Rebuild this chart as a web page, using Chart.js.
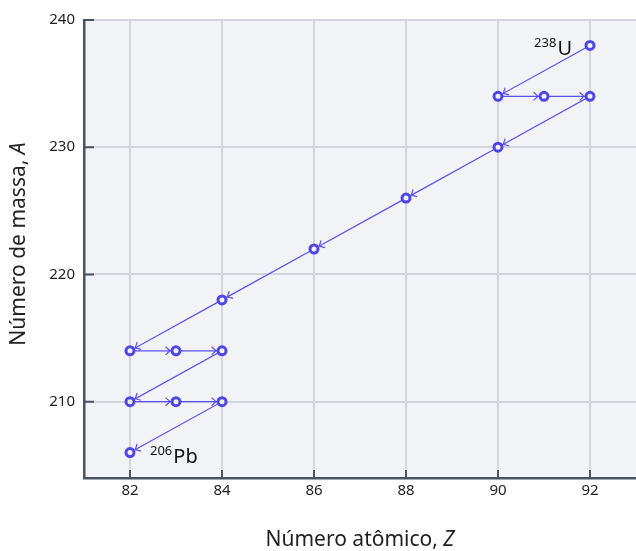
<!DOCTYPE html>
<html>
<head>
<meta charset="utf-8">
<script src="https://cdn.jsdelivr.net/npm/chart.js@4"></script>
<style>
  html, body { margin: 0; padding: 0; background: #ffffff; overflow: hidden; }
  #wrap { width: 636px; height: 551px; position: relative; }
</style>
</head>
<body>
<div id="wrap"><canvas id="myChart"></canvas></div>
<script>
// decay chain of U-238, in order
const atomicNumber = [92, 90, 91, 92, 90, 88, 86, 84, 82, 83, 84, 82, 83, 84, 82];
const massNumber = [238, 234, 234, 234, 230, 226, 222, 218, 214, 214, 214, 210, 210, 210, 206];

const xTicks = [82, 84, 86, 88, 90, 92];
const yTicks = [210, 220, 230, 240];

// isotope labels
const labelSup = ["238", "206"];
const labelSym = ["U", "Pb"];
const labelZ = [92, 82];
const labelA = [238, 206];
const labelSide = ["left", "right"];

const FONT = "'Noto Sans', sans-serif";
const ctx = document.getElementById('myChart');
const lineColor = '#5b4ff0';
const axisColor = '#4b5263';

const chainData = atomicNumber.map((z, i) => ({ x: z, y: massNumber[i] }));

// background, inward ticks, arrows, labels and axis titles
const decorPlugin = {
    id: 'decor',
    beforeDraw(chart) {
        const { ctx, chartArea } = chart;
        ctx.save();
        ctx.fillStyle = '#f2f3f6';
        ctx.fillRect(chartArea.left, chartArea.top, chartArea.right - chartArea.left, chartArea.bottom - chartArea.top);
        ctx.restore();
    },
    afterDatasetsDraw(chart) {
        const { ctx, chartArea, scales } = chart;
        const xs = scales.x, ys = scales.y;
        ctx.save();

        // arrow heads at the end of each step
        ctx.strokeStyle = lineColor;
        ctx.lineWidth = 1.2;
        for (let i = 1; i < atomicNumber.length; i++) {
            const x0 = xs.getPixelForValue(atomicNumber[i - 1]);
            const y0 = ys.getPixelForValue(massNumber[i - 1]);
            const x1 = xs.getPixelForValue(atomicNumber[i]);
            const y1 = ys.getPixelForValue(massNumber[i]);
            const ang = Math.atan2(y1 - y0, x1 - x0);
            const tx = x1 - Math.cos(ang) * 6;
            const ty = y1 - Math.sin(ang) * 6;
            ctx.beginPath();
            for (const s of [-1, 1]) {
                const a = ang + Math.PI + s * 0.75;
                ctx.moveTo(tx, ty);
                ctx.lineTo(tx + Math.cos(a) * 6, ty + Math.sin(a) * 6);
            }
            ctx.stroke();
        }

        // isotope labels
        ctx.fillStyle = '#111111';
        ctx.textBaseline = 'alphabetic';
        for (let i = 0; i < labelSym.length; i++) {
            const px = xs.getPixelForValue(labelZ[i]);
            const py = ys.getPixelForValue(labelA[i]);
            ctx.font = '13px ' + FONT;
            const wSup = ctx.measureText(labelSup[i]).width;
            ctx.font = '20px ' + FONT;
            const wSym = ctx.measureText(labelSym[i]).width;
            let left = labelSide[i] === 'left' ? px - 19 - wSup - wSym : px + 20;
            const base = py + 10;
            ctx.font = '13px ' + FONT;
            ctx.fillText(labelSup[i], left, base - 8);
            ctx.font = '20px ' + FONT;
            ctx.fillText(labelSym[i], left + wSup + 1, base);
        }

        // inward tick marks
        ctx.strokeStyle = axisColor;
        ctx.lineWidth = 2;
        ctx.beginPath();
        xTicks.forEach(v => {
            const p = xs.getPixelForValue(v);
            ctx.moveTo(p, chartArea.bottom);
            ctx.lineTo(p, chartArea.bottom - 8);
        });
        yTicks.forEach(v => {
            const p = ys.getPixelForValue(v);
            ctx.moveTo(chartArea.left, p);
            ctx.lineTo(chartArea.left + 10, p);
        });
        ctx.stroke();

        // axis titles with italic symbol
        ctx.fillStyle = '#222222';
        ctx.textBaseline = 'middle';
        const drawTitle = (plain, sym, cx, cy, rot) => {
            ctx.save();
            ctx.translate(cx, cy);
            ctx.rotate(rot);
            ctx.font = '21px ' + FONT;
            const w1 = ctx.measureText(plain).width;
            ctx.font = 'italic 21px ' + FONT;
            const w2 = ctx.measureText(sym).width;
            const start = -(w1 + w2) / 2;
            ctx.font = '21px ' + FONT;
            ctx.fillText(plain, start, 0);
            ctx.font = 'italic 21px ' + FONT;
            ctx.fillText(sym, start + w1, 0);
            ctx.restore();
        };
        drawTitle('Número atômico, ', 'Z', 360, 540, 0);
        drawTitle('Número de massa, ', 'A', 19, 244, -Math.PI / 2);
        ctx.restore();
    }
};

new Chart(ctx, {
    type: 'scatter',
    plugins: [decorPlugin],
    data: {
        datasets: [{
            data: chainData,
            showLine: true,
            borderColor: lineColor,
            borderWidth: 1.2,
            pointRadius: 4,
            pointBorderWidth: 3,
            pointBorderColor: '#4f46e5',
            pointBackgroundColor: '#f2f3f6',
        }]
    },
    options: {
        responsive: true,
        maintainAspectRatio: false,
        animation: false,
        layout: { autoPadding: false, padding: { top: 20, right: 0, left: 0, bottom: 0 } },
        plugins: {
            legend: { display: false },
            tooltip: { enabled: false }
        },
        scales: {
            x: {
                type: 'linear',
                min: 81,
                max: 93,
                afterBuildTicks: s => { s.ticks = xTicks.map(v => ({ value: v })); },
                afterFit: s => { s.height = 73; },
                grid: { color: '#d3d5dc', lineWidth: 2, drawTicks: false },
                border: { color: axisColor, width: 2.5 },
                ticks: { color: '#222222', font: { family: FONT, size: 15 }, padding: 4 }
            },
            y: {
                type: 'linear',
                min: 204,
                max: 240,
                afterBuildTicks: s => { s.ticks = yTicks.map(v => ({ value: v })); },
                afterFit: s => { s.width = 84; },
                grid: { color: '#d3d5dc', lineWidth: 2, drawTicks: false },
                border: { color: axisColor, width: 2.5 },
                ticks: { color: '#222222', font: { family: FONT, size: 15 }, padding: 9 }
            }
        }
    }
});
</script>
</body>
</html>
